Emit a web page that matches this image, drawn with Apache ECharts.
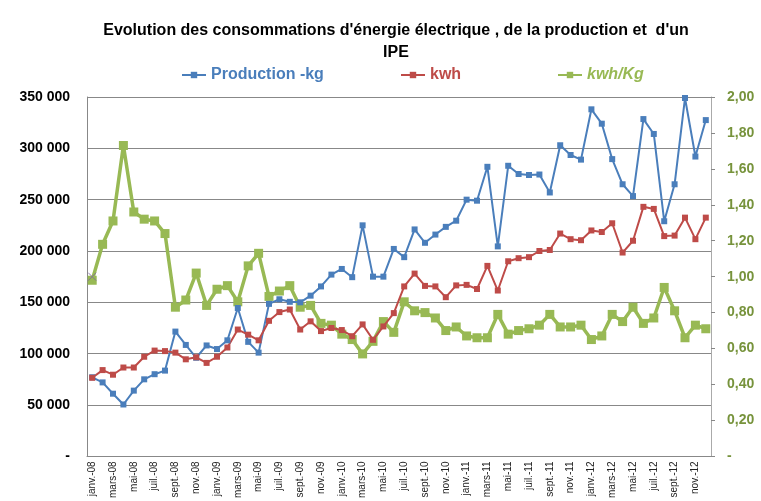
<!DOCTYPE html>
<html><head><meta charset="utf-8">
<script src="https://cdn.jsdelivr.net/npm/echarts@6/dist/echarts.min.js"></script>
<style>html,body{margin:0;padding:0;background:#fff}#c{width:761px;height:501px}</style>
</head><body><div id="c"></div>
<script>
const monthNames = ['janv.','févr.','mars','avr.','mai','juin','juil.','août','sept.','oct.','nov.','déc.'];
const years = ['08','09','10','11','12'];
const categories = [];
years.forEach(y => monthNames.forEach(m => categories.push(m + '-' + y)));

const production = [77000,72000,61000,50500,64000,75000,80000,83500,121500,108500,96000,108000,
  104500,113000,144500,111500,101000,148500,153000,150500,150000,156500,165500,177000,
  182500,174500,225000,175000,175000,202000,194000,221000,208000,216000,223500,229500,
  250000,249000,282000,204500,283000,275000,274000,274500,257000,303000,293500,289000,
  338000,324000,289500,265000,253500,328500,314000,229000,265000,349000,292000,327500];
const kwh = [76500,84000,79500,86500,86500,97000,103000,102500,101000,94500,96500,91000,
  97000,106000,123500,118500,113000,132000,140500,143000,123500,131500,122000,125000,
  123000,117000,128500,113500,126500,139500,165500,178000,166000,165500,155000,166500,
  167000,163000,185500,161500,190000,193000,194000,200000,201000,217000,211500,210500,
  220000,218500,227000,198500,210000,243000,241000,214500,215000,232500,211500,232500];
const ratio = [0.98,1.18,1.31,1.73,1.36,1.32,1.31,1.24,0.83,0.87,1.02,0.84,
  0.93,0.95,0.86,1.06,1.13,0.89,0.92,0.95,0.83,0.84,0.74,0.73,
  0.68,0.65,0.57,0.64,0.75,0.69,0.86,0.81,0.80,0.77,0.70,0.72,
  0.67,0.66,0.66,0.79,0.68,0.70,0.71,0.73,0.79,0.72,0.72,0.73,
  0.65,0.67,0.79,0.75,0.83,0.74,0.77,0.94,0.81,0.66,0.73,0.71];
const strayPoint = [[0, 1.0]];

const leftTicks = v => v === 0 ? '-' : String(v).replace(/\B(?=(\d{3})+(?!\d))/g, ' ');
const rightTicks = v => v === 0 ? '-' : v.toFixed(2).replace('.', ',');

const chart = echarts.init(document.getElementById('c'), null, {renderer: 'canvas'});
const font = 'Liberation Sans';
const legendBase = {top: 62, itemWidth: 24, itemHeight: 8, itemGap: 0,
  textStyle: {fontFamily: font, fontSize: 16, fontWeight: 'bold'}};
chart.setOption({
  animation: false,
  title: {text: "Evolution des consommations d'énergie électrique , de la production et  d'un\nIPE",
    left: 391, textAlign: 'center', top: 15,
    textStyle: {fontFamily: font, fontSize: 16, fontWeight: 'bold', color: '#000', lineHeight: 22}},
  legend: [
    Object.assign({}, legendBase, {data: ['Production -kg'], left: 176, textStyle: Object.assign({}, legendBase.textStyle, {color: '#4A7EBB'})}),
    Object.assign({}, legendBase, {data: ['kwh'], left: 395, textStyle: Object.assign({}, legendBase.textStyle, {color: '#BE4B48'})}),
    Object.assign({}, legendBase, {data: ['kwh/Kg'], left: 552, textStyle: Object.assign({}, legendBase.textStyle, {color: '#98B954', fontStyle: 'italic'})})
  ],
  grid: {left: 87, right: 50, top: 97, bottom: 44},
  xAxis: {type: 'category', data: categories, boundaryGap: true,
    axisLine: {lineStyle: {color: '#888', width: 1}}, axisTick: {show: false},
    axisLabel: {interval: 1, rotate: 90, fontSize: 10, color: '#222', fontFamily: font, margin: 5}},
  yAxis: [
    {type: 'value', min: 0, max: 350000, interval: 50000,
      axisLine: {show: true, lineStyle: {color: '#888'}}, axisTick: {show: false},
      splitLine: {lineStyle: {color: '#888', width: 1}},
      axisLabel: {formatter: leftTicks, fontFamily: font, fontSize: 14, fontWeight: 'bold', color: '#000', margin: 17}},
    {type: 'value', min: 0, max: 2, interval: 0.2, position: 'right',
      axisLine: {show: true, lineStyle: {color: '#aaa'}}, axisTick: {show: true, length: 4, lineStyle: {color: '#888'}},
      splitLine: {show: false},
      axisLabel: {formatter: rightTicks, fontFamily: font, fontSize: 14, fontWeight: 'bold', color: '#77933C', margin: 16}}
  ],
  series: [
    {name: 'Production -kg', type: 'line', data: production, yAxisIndex: 0, z: 3, showAllSymbol: true,
      symbol: 'rect', symbolSize: 6, itemStyle: {color: '#4A7EBB'}, lineStyle: {width: 2, color: '#4A7EBB'}},
    {name: 'kwh', type: 'line', data: kwh, yAxisIndex: 0, z: 3, showAllSymbol: true,
      symbol: 'rect', symbolSize: 6, itemStyle: {color: '#BE4B48'}, lineStyle: {width: 2, color: '#BE4B48'}},
    {name: 'kwh/Kg', type: 'line', data: ratio, yAxisIndex: 1, z: 2, showAllSymbol: true,
      symbol: 'rect', symbolSize: 9, itemStyle: {color: '#98B954'}, lineStyle: {width: 3.5, color: '#98B954'}},
    {name: 'x', type: 'scatter', data: strayPoint, yAxisIndex: 1, z: 5,
      symbol: 'path://M0,0L10,10M10,0L0,10', symbolSize: 8,
      itemStyle: {color: 'none', borderColor: '#8064A2', borderWidth: 1}}
  ]
});
</script></body></html>
